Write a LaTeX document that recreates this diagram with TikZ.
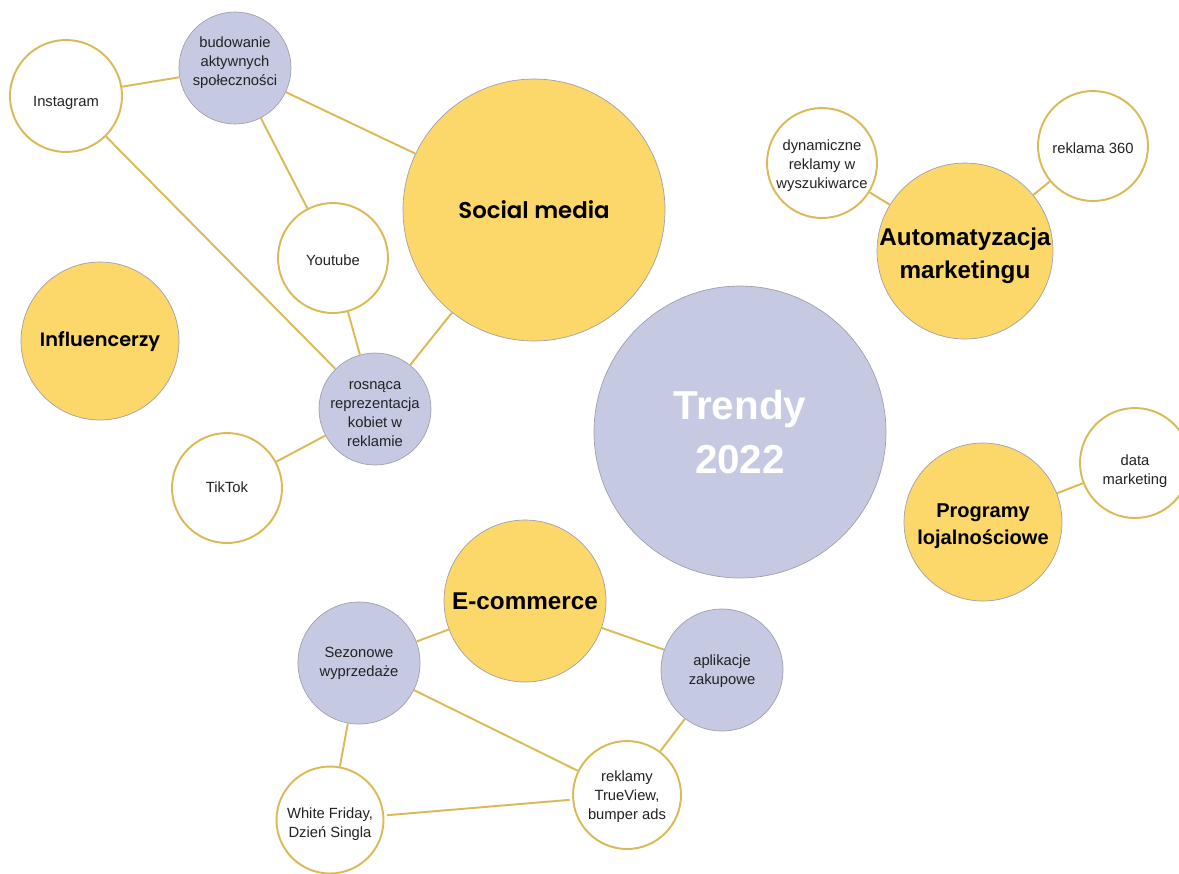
\documentclass[tikz,border=0pt]{standalone}
\usepackage{fontspec}
\setmainfont{Liberation Sans}
\newfontfamily\popfont{Poppins SemiBold}
\definecolor{goldline}{RGB}{218,186,86}
\definecolor{sunfill}{RGB}{252,215,106}
\definecolor{lavfill}{RGB}{197,201,226}
\definecolor{rimgray}{RGB}{160,160,172}
\definecolor{inkgray}{RGB}{34,34,34}
% text block, moved down by #1 inside its circle
\newcommand\bubtext[2][0pt]{\raisebox{-#1}[\height][\depth]{\begin{tabular}{@{}c@{}}#2\end{tabular}}}
% same, but its box made lower by 2x#2 so that the circle keeps its size
\newcommand\flattext[3]{\raisebox{-#1}[\dimexpr\height-#2\relax][\dimexpr\depth-#2\relax]{\begin{tabular}{@{}c@{}}#3\end{tabular}}}
\tikzset{
  bubble/.style   = {shape=circle, inner sep=0pt},
  leaf/.style     = {
    bubble,
    draw=goldline, line width=1.1pt,
    fill=white,
    text=inkgray,
    font=\fontsize{8.4}{10.8}\selectfont},
  topic/.style    = {
    bubble,
    draw=rimgray, line width=0.4pt,
    fill=lavfill,
    text=inkgray,
    font=\fontsize{8.4}{10.8}\selectfont},
  trend/.style    = {
    bubble,
    draw=rimgray, line width=0.4pt,
    fill=sunfill,
    font=\bfseries\fontsize{13.8}{18.9}\selectfont},
  core/.style     = {
    bubble,
    draw=rimgray, line width=0.4pt,
    fill=lavfill,
    text=white,
    font=\bfseries\fontsize{23}{30.6}\selectfont},
  link/.style     = {draw=goldline, line width=1.1pt, shorten >=1.5pt, shorten <=1.5pt}
}
\begin{document}
\begin{tikzpicture}[x=0.02cm, y=-0.02cm]
    \useasboundingbox (0,0) rectangle (1179,873);
    % centre
    \node [core, minimum size=5.84cm] (trendy) at (740,432) {\bubtext[2.3pt]{Trendy\\2022}};
    % main trends
    \node [trend, minimum size=5.24cm, font=\popfont\fontsize{13}{16}\selectfont]
        (social) at (534,210) {Social media};
    \node [trend, minimum size=3.16cm, font=\popfont\fontsize{11}{14}\selectfont]
        (influ) at (100,341) {\bubtext[0.6pt]{Influencerzy}};
    \node [trend, minimum size=3.52cm] (auto) at (965,251)
        {\flattext{2.3pt}{9pt}{Automatyzacja\\marketingu}};
    \node [trend, minimum size=3.16cm, font=\bfseries\fontsize{11.4}{15.3}\selectfont]
        (loyal) at (983,522) {\bubtext[2.3pt]{Programy\\lojalnościowe}};
    \node [trend, minimum size=3.24cm] (ecom) at (525,601) {E-commerce};
    % social media branch
    \node [leaf, minimum size=2.24cm] (insta) at (66,96) {\bubtext[4pt]{Instagram}};
    \node [topic, minimum size=2.24cm] (commun) at (235,68) {\bubtext[-2.8pt]{budowanie\\aktywnych\\społeczności}};
    \node [leaf, minimum size=2.2cm] (youtube) at (333,258) {\bubtext[2.3pt]{Youtube}};
    \node [topic, minimum size=2.24cm] (women) at (375,409) {\flattext{3pt}{5pt}{rosnąca\\reprezentacja\\kobiet w\\reklamie}};
    \node [leaf, minimum size=2.2cm] (tiktok) at (227,488) {\bubtext[0.6pt]{TikTok}};
    % automation branch
    \node [leaf, minimum size=2.2cm] (search) at (822,163) {\bubtext[1.7pt]{dynamiczne\\reklamy w\\wyszukiwarce}};
    \node [leaf, minimum size=2.2cm] (r360) at (1093,146) {\bubtext[2.3pt]{reklama 360}};
    % loyalty branch
    \node [leaf, minimum size=2.2cm] (datam) at (1135,463) {\bubtext[4.5pt]{data\\marketing}};
    % e-commerce branch
    \node [topic, minimum size=2.44cm] (sales) at (359,663) {\bubtext{Sezonowe\\wyprzedaże}};
    \node [topic, minimum size=2.44cm] (apps) at (722,670) {\bubtext[0.8pt]{aplikacje\\zakupowe}};
    \node [leaf, minimum size=2.16cm] (trueview) at (627,795) {\bubtext[1.1pt]{reklamy\\TrueView,\\bumper ads}};
    \node [leaf, minimum size=2.14cm] (friday) at (330,820) {\bubtext[2.5pt]{White Friday,\\Dzień Singla}};

    \path [link]
        (insta) -- (commun)
        (commun) -- (social)
        (commun) -- (youtube)
        (insta) -- (women)
        (youtube) -- (women)
        (women) -- (social)
        (women) -- (tiktok)
        (search) -- (auto)
        (r360) -- (auto)
        (loyal) -- (datam)
        (ecom) -- (sales)
        (ecom) -- (apps)
        (sales) -- (friday)
        (sales) -- (trueview)
        (apps) -- (trueview)
        (friday) -- (trueview);
\end{tikzpicture}
\end{document}
